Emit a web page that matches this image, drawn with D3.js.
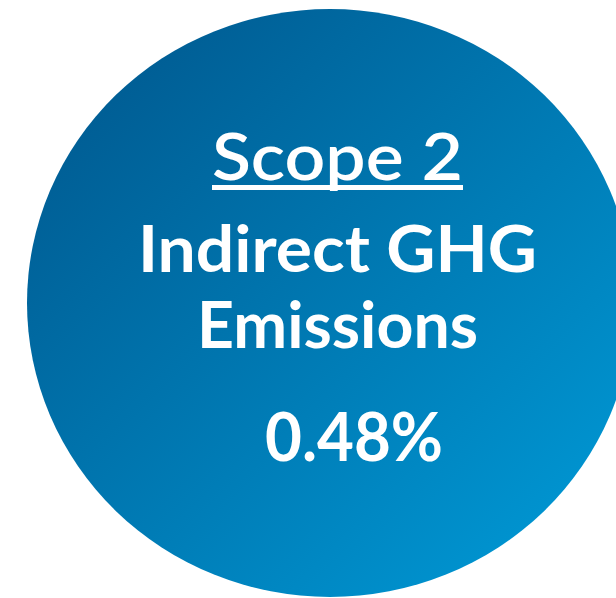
<!DOCTYPE html>
<html>
<head>
<meta charset="utf-8">
<script src="https://cdn.jsdelivr.net/npm/d3@7"></script>
<style>
  html, body { margin: 0; padding: 0; background: #ffffff; }
  svg { display: block; }
</style>
</head>
<body>
<div id="chart"></div>
<script>
// --- data ---
const titleLines = ["Scope 2"];
const labelLines = ["Indirect GHG", "Emissions"];
const shareValues = [0.48];
const gradientColors = ["#00548a", "#009dda"];

const width = 616, height = 598;

const svg = d3.select("#chart").append("svg")
  .attr("width", width)
  .attr("height", height);

const defs = svg.append("defs");
const grad = defs.append("linearGradient")
  .attr("id", "bubble_gradient")
  .attr("x1", "0").attr("y1", "0")
  .attr("x2", "1").attr("y2", "1");

grad.selectAll("stop")
  .data(gradientColors)
  .enter()
  .append("stop")
  .attr("offset", (d, i) => i / (gradientColors.length - 1))
  .attr("stop-color", d => d);

// the bubble (a little wider than tall, right side runs off the page)
svg.append("ellipse")
  .attr("cx", 330)
  .attr("cy", 303)
  .attr("rx", 303)
  .attr("ry", 294)
  .attr("fill", "url(#bubble_gradient)");

const fmt = d3.format(".2f");
const font = "Lato, 'DejaVu Sans', sans-serif";

// title, underlined
const title = svg.append("g");
title.selectAll("text")
  .data(titleLines)
  .enter()
  .append("text")
  .attr("x", 212)
  .attr("y", 180)
  .attr("textLength", 251)
  .attr("lengthAdjust", "spacingAndGlyphs")
  .attr("font-family", font)
  .attr("font-weight", 600)
  .attr("font-size", 66)
  .attr("fill", "#ffffff")
  .text(d => d);

title.append("rect")
  .attr("x", 212)
  .attr("y", 185)
  .attr("width", 251)
  .attr("height", 5)
  .attr("fill", "#ffffff");

// label lines
const lineX = [138, 197];
const lineW = [399, 281];
const lineY = [272, 348];
svg.append("g").selectAll("text")
  .data(labelLines)
  .enter()
  .append("text")
  .attr("x", (d, i) => lineX[i])
  .attr("y", (d, i) => lineY[i])
  .attr("textLength", (d, i) => lineW[i])
  .attr("lengthAdjust", "spacingAndGlyphs")
  .attr("font-family", font)
  .attr("font-weight", 700)
  .attr("font-size", 65)
  .attr("fill", "#ffffff")
  .text(d => d);

// value
svg.append("g").selectAll("text")
  .data(shareValues)
  .enter()
  .append("text")
  .attr("x", 265)
  .attr("y", 461)
  .attr("textLength", 178)
  .attr("lengthAdjust", "spacingAndGlyphs")
  .attr("font-family", font)
  .attr("font-weight", 700)
  .attr("font-size", 67)
  .attr("fill", "#ffffff")
  .text(d => fmt(d) + "%");
</script>
</body>
</html>
